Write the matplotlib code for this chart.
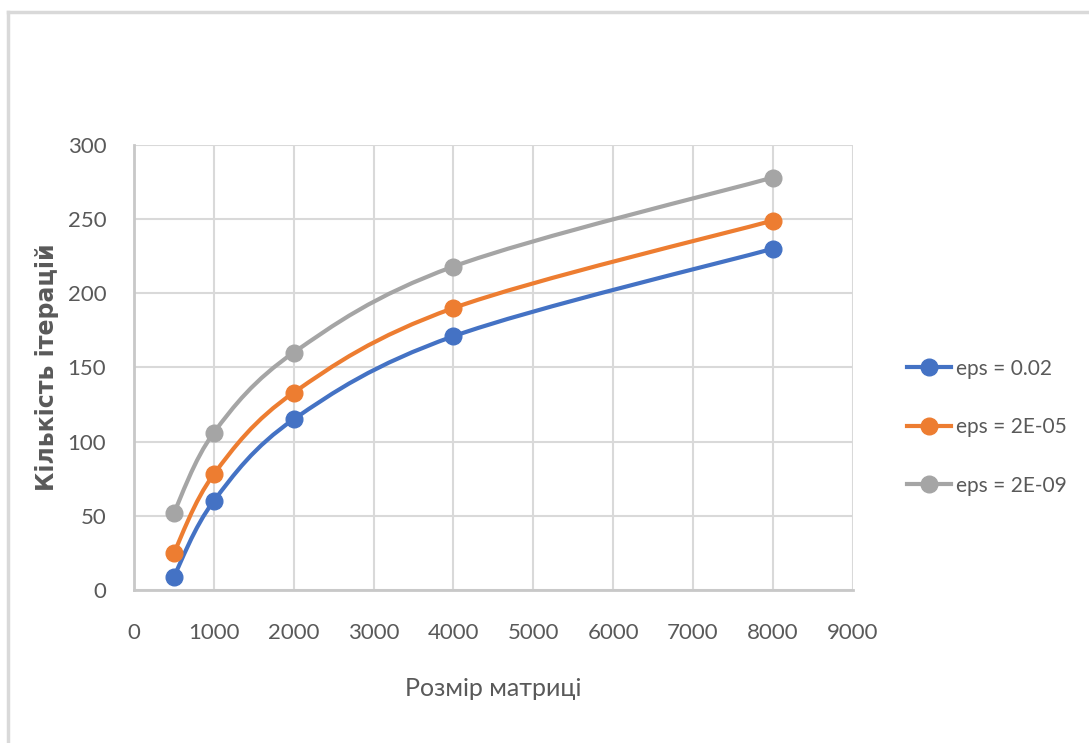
import numpy as np
import matplotlib
matplotlib.use("Agg")
import matplotlib.pyplot as plt
from matplotlib.path import Path
from matplotlib.patches import PathPatch
from matplotlib.lines import Line2D

sizes = [500, 1000, 2000, 4000, 8000]
eps_002 = [9, 60, 115, 171, 230]
eps_2e05 = [25, 78, 133, 190, 249]
eps_2e09 = [52, 106, 160, 218, 278]

series = [
    (eps_002, "eps = 0.02", "#4472C4"),
    (eps_2e05, "eps = 2E-05", "#ED7D31"),
    (eps_2e09, "eps = 2E-09", "#A5A5A5"),
]

narrow = ["Lato", "DejaVu Sans"]


def smooth_path(xs, ys):
    # bezier curve through the points, like excel's smoothed line
    pts = np.column_stack([xs, ys]).astype(float)
    ext = np.vstack([pts[0], pts, pts[-1]])
    verts = [pts[0]]
    codes = [Path.MOVETO]
    for i in range(len(pts) - 1):
        p0, p1, p2, p3 = ext[i], ext[i + 1], ext[i + 2], ext[i + 3]
        verts += [p1 + (p2 - p0) / 6, p2 - (p3 - p1) / 6, p2]
        codes += [Path.CURVE4] * 3
    return Path(verts, codes)


fig = plt.figure(figsize=(10.89, 7.43), dpi=100)
ax = fig.add_axes([0.123, 0.206, 0.660, 0.599])

for vals, label, color in series:
    ax.add_patch(PathPatch(smooth_path(sizes, vals), fill=False,
                           edgecolor=color, lw=3, capstyle="round", zorder=3))
    ax.plot(sizes, vals, "o", color=color, ms=12, zorder=4)

ax.set_xlim(0, 9000)
ax.set_ylim(0, 300)
ax.set_xticks(range(0, 9001, 1000))
ax.set_yticks(range(0, 301, 50))
ax.grid(True, color="#D9D9D9", lw=1.5)
ax.set_axisbelow(True)
for side in ["top", "right"]:
    ax.spines[side].set_visible(False)
for side in ["left", "bottom"]:
    ax.spines[side].set_color("#C8C8C8")
    ax.spines[side].set_linewidth(2)
ax.tick_params(axis="x", length=0, pad=24, labelcolor="#595959")
ax.tick_params(axis="y", length=0, pad=20, labelcolor="#595959")
for t in ax.get_xticklabels() + ax.get_yticklabels():
    t.set_family(narrow)
    t.set_fontsize(16)

ax.set_xlabel("Розмір матриці", family=narrow, fontsize=18, color="#595959",
              labelpad=24)
ax.set_ylabel("Кількість ітерацій", fontsize=17, fontweight="bold",
              color="#595959", labelpad=6)

handles = [Line2D([], [], color=c, lw=3, marker="o", ms=12) for _, _, c in series]
ax.legend(handles, [s[1] for s in series], loc="center left",
          bbox_to_anchor=(1.05, 0.366), frameon=False, handlelength=2.1,
          labelspacing=1.85, handletextpad=0.25,
          prop={"family": narrow, "size": 15}, labelcolor="#595959")

# outer chart border (top and left only visible)
fig.add_artist(Line2D([8 / 1089, 1], [1 - 12 / 743] * 2, color="#D9D9D9", lw=2.5))
fig.add_artist(Line2D([8 / 1089] * 2, [0, 1 - 12 / 743], color="#D9D9D9", lw=2.5))

fig.savefig("out.png", dpi=100)
